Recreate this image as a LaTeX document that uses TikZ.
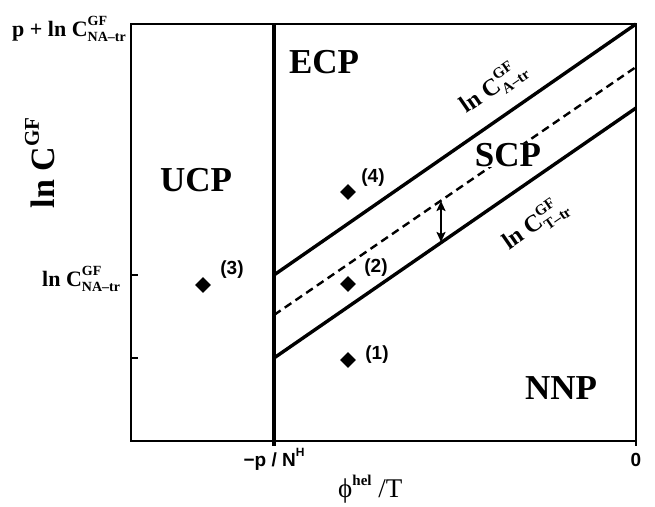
\documentclass[tikz,border=0pt]{standalone}
\usepackage{fontspec}
\setmainfont{Liberation Serif}
\setsansfont{Liberation Sans}
\usetikzlibrary{shapes.geometric,arrows.meta}
\newcommand\supsubx[3]{{\fontsize{#1}{#1}\selectfont\rlap{\raisebox{0.72em}{#2}}\raisebox{-0.4em}{#3}}}
\begin{document}
\begin{tikzpicture}[x=1pt,y=-1pt,
  frame/.style={line width=2.4pt},
  phaseline/.style={line width=3.4pt},
  dashline/.style={line width=2.4pt, dash pattern=on 8pt off 5pt},
  region/.style={font=\bfseries\fontsize{35}{35}\selectfont, inner sep=0pt},
  pt/.style={diamond, fill=black, inner sep=0pt, minimum size=16pt},
  ptlabel/.style={font=\sffamily\bfseries\fontsize{19}{19}\selectfont, inner sep=0pt},
  axlabel/.style={font=\bfseries\fontsize{22}{22}\selectfont, inner sep=0pt},
  linelabel/.style={font=\bfseries\fontsize{24}{24}\selectfont, inner sep=0pt, rotate=34.6},
  ticklabel/.style={font=\sffamily\bfseries\fontsize{19}{19}\selectfont, inner sep=0pt},
  tickmark/.style={line width=1.4pt}]
\useasboundingbox (0,0) rectangle (655,506);
% frame
\coordinate (TL) at (131,24);
\coordinate (BR) at (636,441);
\coordinate (TR) at (636,24);
\draw[frame] (TL) rectangle (BR);
% vertical boundary
\coordinate (vT) at (274,24);
\coordinate (vB) at (274,446);
\draw[phaseline] (vT) -- (vB);
\coordinate (zB) at (636,446);
\coordinate (zT) at (636,441);
\draw[tickmark] (zT) -- (zB);
% left ticks
\coordinate (t1a) at (131,275); \coordinate (t1b) at (138,275);
\coordinate (t2a) at (131,358); \coordinate (t2b) at (138,358);
\draw[tickmark] (t1a) -- (t1b);
\draw[tickmark] (t2a) -- (t2b);
% lines
\coordinate (aL) at (274,275);
\draw[phaseline] (aL) -- (TR);
\coordinate (dL) at (274,315);
\coordinate (dR) at (636,67);
\draw[dashline] (dL) -- (dR);
\coordinate (tL) at (274,358);
\coordinate (tR) at (636,108);
\draw[phaseline] (tL) -- (tR);
% arrow
\coordinate (ar1) at (441,201);
\coordinate (ar2) at (441,242);
\draw[line width=2.4pt, {Stealth[length=10pt,width=9pt,inset=2pt]}-{Stealth[length=10pt,width=9pt,inset=2pt]}] (ar1) -- (ar2);
% regions
\node[region] (ecp) at (324,62) {ECP};
\node[region] (ucp) at (196,180) {UCP};
\node[region, fill=white] (scp) at (508,155) {SCP};
\node[region] (nnp) at (561,388) {NNP};
% points
\node[pt] (p4) at (348,192) {};
\node[pt] (p3) at (203,285) {};
\node[pt] (p2) at (348,284) {};
\node[pt] (p1) at (348,360) {};
\node[ptlabel] (l4) at (373,178) {(4)};
\node[ptlabel] (l3) at (232,270) {(3)};
\node[ptlabel] (l2) at (376,268) {(2)};
\node[ptlabel] (l1) at (377,355) {(1)};
% line labels
\node[linelabel] (la) at (493,87) {ln C\supsubx{15}{GF}{A–tr}};
\node[linelabel] (lt) at (535,224) {ln C\supsubx{15}{GF}{T–tr}};
% axis labels
\node[axlabel, anchor=base west] (ytop) at (12,36) {p + ln C\supsubx{14}{GF}{NA–tr}};
\node[axlabel, anchor=base west] (ymid) at (42,286) {ln C\supsubx{14}{GF}{NA–tr}};
\node[font=\bfseries\fontsize{34}{34}\selectfont, inner sep=0pt, rotate=90] (ylab) at (40,163) {ln C{\fontsize{21}{21}\selectfont\raisebox{0.75em}{GF}}};
\node[ticklabel, anchor=base] (xp) at (274,466) {−p / N{\fontsize{12}{12}\selectfont\raisebox{0.8em}{H}}};
\node[ticklabel, anchor=base] (x0) at (636,466) {0};
\node[font=\fontsize{27}{27}\selectfont, inner sep=0pt, anchor=base west] (xlab) at (338,497) {ϕ{\bfseries\fontsize{15}{15}\selectfont\raisebox{0.75em}{hel}} /T};
\end{tikzpicture}
\end{document}
